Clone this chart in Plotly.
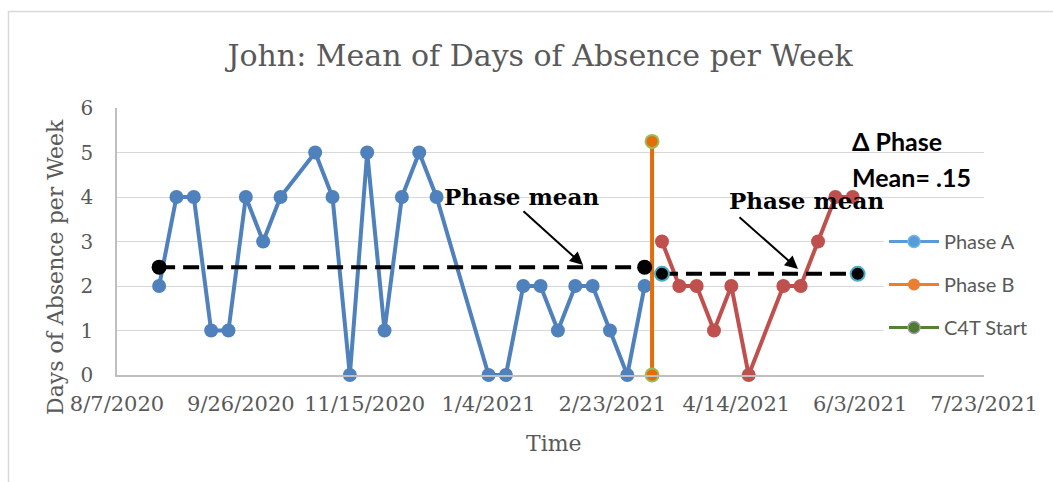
import plotly.graph_objects as go

# ---- data ----
phase_a_dates = ["2020-08-24", "2020-08-31", "2020-09-07", "2020-09-14", "2020-09-21",
                 "2020-09-28", "2020-10-05", "2020-10-12",
                 "2020-10-26", "2020-11-02", "2020-11-09", "2020-11-16", "2020-11-23",
                 "2020-11-30", "2020-12-07", "2020-12-14",
                 "2021-01-04", "2021-01-11", "2021-01-18", "2021-01-25", "2021-02-01",
                 "2021-02-08", "2021-02-15", "2021-02-22", "2021-03-01", "2021-03-08"]
phase_a_values = [2, 4, 4, 1, 1, 4, 3, 4,
                  5, 4, 0, 5, 1, 4, 5, 4,
                  0, 0, 2, 2, 1, 2, 2, 1, 0, 2]

phase_b_dates = ["2021-03-15", "2021-03-22", "2021-03-29", "2021-04-05", "2021-04-12",
                 "2021-04-19", "2021-05-03", "2021-05-10", "2021-05-17", "2021-05-24",
                 "2021-05-31"]
phase_b_values = [3, 2, 2, 1, 2, 0, 2, 2, 3, 4, 4]

c4t_start_dates = ["2021-03-11", "2021-03-11"]
c4t_start_values = [0, 5.25]

mean_a_dates = ["2020-08-24", "2021-03-08"]
mean_b_dates = ["2021-03-15", "2021-06-02"]
mean_a = sum(phase_a_values) / len(phase_a_values)
mean_b = sum(phase_b_values) / len(phase_b_values)

legend_names = ["Phase A", "Phase B", "C4T Start"]
x_range = ["2020-08-07", "2021-07-23"]
y_ticks = [0, 1, 2, 3, 4, 5, 6]

SERIF = "DejaVu Serif"
GRAY_TXT = "#595959"

fig = go.Figure()

fig.add_trace(go.Scatter(x=phase_a_dates, y=phase_a_values, mode="lines+markers",
                         line=dict(color="#4F81BD", width=4),
                         marker=dict(color="#4F81BD", size=14),
                         showlegend=False, cliponaxis=False))
fig.add_trace(go.Scatter(x=phase_b_dates, y=phase_b_values, mode="lines+markers",
                         line=dict(color="#C0504D", width=4),
                         marker=dict(color="#C0504D", size=14),
                         showlegend=False, cliponaxis=False))
fig.add_trace(go.Scatter(x=c4t_start_dates, y=c4t_start_values, mode="lines+markers",
                         line=dict(color="#E46C0A", width=4),
                         marker=dict(color="#E46C0A", size=13,
                                     line=dict(color="#9BBB59", width=2)),
                         showlegend=False, cliponaxis=False))
fig.add_trace(go.Scatter(x=mean_a_dates, y=[mean_a, mean_a], mode="lines+markers",
                         line=dict(color="black", width=4, dash="16px,8px"),
                         marker=dict(color="black", size=15),
                         showlegend=False, cliponaxis=False))
fig.add_trace(go.Scatter(x=mean_b_dates, y=[mean_b, mean_b], mode="lines+markers",
                         line=dict(color="black", width=4, dash="16px,8px"),
                         marker=dict(color="black", size=14,
                                     line=dict(color="#4BACC6", width=2)),
                         showlegend=False, cliponaxis=False))

# legend entries
legend_styles = [
    dict(line=dict(color="#5B9BD5", width=3),
         marker=dict(color="#5B9BD5", size=12, line=dict(color="#6FB7E6", width=1.5))),
    dict(line=dict(color="#ED7D31", width=3),
         marker=dict(color="#ED7D31", size=12)),
    dict(line=dict(color="#548235", width=3),
         marker=dict(color="#4F7A35", size=12, line=dict(color="#9E9E9E", width=1.5))),
]
for i, (name, st) in enumerate(zip(legend_names, legend_styles)):
    fig.add_trace(go.Scatter(x=[None], y=[None], mode="lines+markers", name=name,
                             legendgroup=f"g{i}", **st))

L, R, T, B = 117, 69, 108, 107
W, H = 1053, 482
PW, PH = W - L - R, H - T - B


def px(xp):
    return (xp - L) / PW


def py(yp):
    return (H - B - yp) / PH


annotations = [
    dict(text="<b>Phase mean</b>", x=px(521), y=py(196), xref="paper", yref="paper",
         showarrow=False, font=dict(family=SERIF, size=23, color="black"),
         xanchor="center", yanchor="middle"),
    dict(text="<b>Phase mean</b>", x=px(806), y=py(200), xref="paper", yref="paper",
         showarrow=False, font=dict(family=SERIF, size=23, color="black"),
         xanchor="center", yanchor="middle"),
    dict(text="", x=px(583), y=py(265), xref="paper", yref="paper",
         showarrow=True, ax=-61, ay=-55, arrowhead=2, arrowsize=1.3, arrowwidth=2,
         arrowcolor="black"),
    dict(text="", x=px(798), y=py(269), xref="paper", yref="paper",
         showarrow=True, ax=-60, ay=-53, arrowhead=2, arrowsize=1.3, arrowwidth=2,
         arrowcolor="black"),
    dict(text="<b>Δ Phase</b>", x=px(850), y=py(141), xref="paper", yref="paper",
         showarrow=False, font=dict(family="Lato", size=25, color="black"),
         xanchor="left", yanchor="middle"),
    dict(text="<b>Mean= .15</b>", x=px(850), y=py(177), xref="paper", yref="paper",
         showarrow=False, font=dict(family="Lato", size=25, color="black"),
         xanchor="left", yanchor="middle"),
    dict(text="Days of Absence per Week", x=px(55), y=py(267), xref="paper", yref="paper",
         showarrow=False, textangle=-90, font=dict(family=SERIF, size=22, color=GRAY_TXT),
         xanchor="center", yanchor="middle"),
    dict(text="Time", x=px(554), y=py(443), xref="paper", yref="paper",
         showarrow=False, font=dict(family=SERIF, size=22, color=GRAY_TXT),
         xanchor="center", yanchor="middle"),
]

fig.update_layout(
    width=W, height=H,
    margin=dict(l=L, r=R, t=T, b=B),
    paper_bgcolor="white", plot_bgcolor="white",
    title=dict(text="John: Mean of Days of Absence per Week", x=540 / W, xanchor="center",
               y=1 - 55 / H, yanchor="middle",
               font=dict(family=SERIF, size=30, color=GRAY_TXT)),
    legend=dict(x=px(884), y=py(222), xanchor="left", yanchor="top",
                bgcolor="white", font=dict(family="Lato", size=20, color=GRAY_TXT),
                traceorder="grouped", tracegroupgap=14, itemwidth=50),
    annotations=annotations,
    shapes=[dict(type="path", xref="paper", yref="paper",
                 path=f"M {px(8.5)},{py(500)} L {px(8.5)},{py(11.5)} L {px(1070)},{py(11.5)}",
                 line=dict(color="#D9D9D9", width=1.5))],
    showlegend=True,
)

fig.update_xaxes(type="date", range=x_range, tick0=x_range[0], dtick=50 * 86400000,
                 tickformat="%-m/%-d/%Y", tickangle=0, showgrid=False, zeroline=False,
                 showline=True, linecolor="#BFBFBF", linewidth=1.5, ticks="",
                 tickfont=dict(family=SERIF, size=21, color=GRAY_TXT),
                 ticklabelstandoff=9)
fig.update_yaxes(range=[0, 6], tickvals=y_ticks, showgrid=True, gridcolor="#D9D9D9",
                 gridwidth=1.3, zeroline=False, showline=True, linecolor="#BFBFBF",
                 linewidth=1.5, ticks="",
                 tickfont=dict(family=SERIF, size=20, color=GRAY_TXT),
                 ticklabelstandoff=18)

fig.write_html("out.html", config={"displayModeBar": False},
               post_script="document.body.style.margin='0';document.body.style.overflow='hidden';")
